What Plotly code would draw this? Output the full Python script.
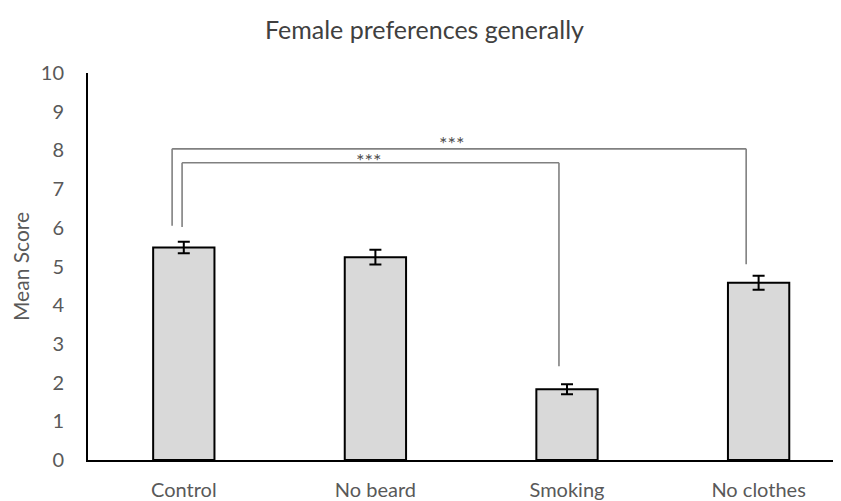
import plotly.graph_objects as go

categories = ["Control", "No beard", "Smoking", "No clothes"]
mean_scores = [5.49, 5.24, 1.83, 4.58]
error_values = [0.15, 0.19, 0.13, 0.18]
y_tick_values = list(range(0, 11))
title_text = "Female preferences generally"
y_title = "Mean Score"
sig_label = "***"

TEXT = "#595959"
FONT = "Lato"
W, H = 833, 493  # page body adds an 8px offset

fig = go.Figure()
fig.add_trace(go.Bar(
    x=list(range(len(categories))),
    y=mean_scores,
    width=0.32,
    marker=dict(color="#d9d9d9", line=dict(color="#000000", width=2)),
    error_y=dict(type="data", array=error_values, visible=True,
                 color="#000000", thickness=2, width=6),
    hoverinfo="skip",
))

# significance brackets (x in category index units, y in data units)
line_style = dict(color="#808080", width=1.6)
def bracket(x0, x1, ytop, y0_end, y1_end):
    fig.add_shape(type="line", x0=x0, x1=x0, y0=y0_end, y1=ytop, line=line_style)
    fig.add_shape(type="line", x0=x0, x1=x1, y0=ytop, y1=ytop, line=line_style)
    fig.add_shape(type="line", x0=x1, x1=x1, y0=ytop, y1=y1_end, line=line_style)

bracket(-0.061, 2.935, 8.04, 6.05, 5.06)
bracket(-0.009, 1.958, 7.68, 6.02, 2.42)

fig.add_annotation(x=1.40, y=8.30, text=sig_label, showarrow=False, yshift=-4,
                   yanchor="middle", font=dict(size=20, color="#505050", family=FONT))
fig.add_annotation(x=0.966, y=7.86, text=sig_label, showarrow=False, yshift=-4,
                   yanchor="middle", font=dict(size=20, color="#505050", family=FONT))

fig.update_layout(
    width=W, height=H,
    margin=dict(l=80, r=0, t=65, b=37),
    plot_bgcolor="white", paper_bgcolor="white",
    showlegend=False,
    title=dict(text=title_text, x=0.5, xanchor="center", xref="container",
               y=1 - 22 / H, yanchor="middle", yref="container",
               font=dict(family=FONT, size=25, color="#404040")),
    font=dict(family=FONT, color=TEXT, size=19),
)
fig.update_xaxes(
    range=[-0.5, 3.43], tickmode="array",
    tickvals=list(range(len(categories))), ticktext=categories,
    showgrid=False, zeroline=False,
    showline=True, linecolor="#000000", linewidth=2,
    ticks="", ticklabelstandoff=11,
    tickfont=dict(family=FONT, size=20, color=TEXT),
    fixedrange=True,
)
fig.update_yaxes(
    range=[0, 10], tickmode="array", tickvals=y_tick_values,
    showgrid=False, zeroline=False,
    showline=True, linecolor="#000000", linewidth=2,
    ticks="", ticklabelstandoff=18,
    tickfont=dict(family=FONT, size=20, color=TEXT),
    title=dict(text=y_title, font=dict(family=FONT, size=21, color=TEXT), standoff=10),
    fixedrange=True,
)

fig.write_html("out.html")
